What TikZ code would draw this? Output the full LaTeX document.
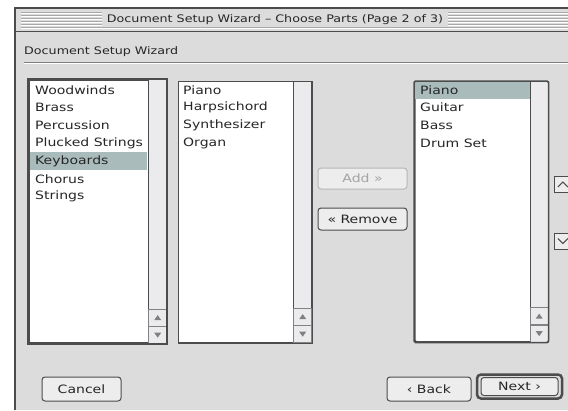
\documentclass[tikz,border=0pt]{standalone}
\usepackage{fontspec}
\setmainfont{DejaVu Sans}
\newfontfamily\uifont[FakeStretch=1.22]{DejaVu Sans}
\usetikzlibrary{positioning}

\definecolor{winbg}{HTML}{DCDCDC}
\definecolor{frame}{HTML}{4C4C4C}
\definecolor{track}{HTML}{EBEBEE}
\definecolor{selbg}{HTML}{A9BBBB}
\definecolor{dimtext}{HTML}{A4A4A4}
\definecolor{stripe}{HTML}{A8A8A8}

\begin{document}
\begin{tikzpicture}[x=1pt, y=-1pt,
ui/.style={font=\uifont\fontsize{11.5}{13}\selectfont, text=black!85},
caption/.style={font=\uifont\fontsize{10.4}{12}\selectfont, text=black!85},
listbox/.style={draw=frame, fill=white, anchor=north west, inner sep=0pt},
item/.style={ui, anchor=west, inner sep=0pt},
scrollbox/.style={draw=frame, fill=track, line width=0.8pt, anchor=north east, inner sep=0pt, minimum width=18},
arrowbox/.style={draw=frame!70, fill=track, line width=0.6pt, inner sep=0pt, minimum width=18, minimum height=17},
btn/.style={ui, draw=frame, fill=white!93!black, rounded corners=3pt, line width=1pt, inner sep=0pt, minimum height=22},
sidebtn/.style={draw=frame, fill=white!93!black, line width=0.8pt, inner sep=0pt, minimum width=17, minimum height=16}
]

\useasboundingbox (0,0) rectangle (568,410);
\fill[white] (0,0) rectangle (568,410);

% Window
\fill[winbg] (15,8) rectangle (568,410);
\foreach \y in {12,15,...,27} {
  \draw[stripe, line width=0.9pt] (21,\y) -- (568,\y);
  \draw[white, line width=0.6pt] (21,\y+1) -- (568,\y+1);
}
\node[caption, fill=winbg, inner xsep=5pt, inner ysep=2pt] (title) at (275,19.5) {Document Setup Wizard – Choose Parts (Page 2 of 3)};
\draw[frame, line width=1.2pt] (15,410) -- (15,8) -- (568,8);
\draw[frame, line width=1pt] (15,31) -- (568,31);

\node[caption, anchor=west, inner sep=0pt] (header) at (24,52) {Document Setup Wizard};
\draw[gray, line width=0.8pt] (24,62.5) -- (568,62.5);
\draw[white, line width=0.6pt] (24,63.5) -- (568,63.5);

% Lists
\node[listbox, line width=2pt, minimum width=137, minimum height=263] (families) at (28,79) {};
\node[listbox, line width=1pt, minimum width=133, minimum height=261] (parts) at (178,81) {};
\node[listbox, line width=1.5pt, rounded corners=1.5pt, minimum width=133, minimum height=260] (chosen) at (414,81) {};

\fill[selbg] (29.5,152) rectangle (147,170);
\fill[selbg] (415,82) rectangle (531,99);

\foreach \n/\h in {families/263, parts/261, chosen/260} {
  \node[scrollbox, minimum height=\h] (\n scroll) at (\n.north east) {};
  \node[arrowbox, anchor=south east] (\n down) at (\n.south east) {};
  \node[arrowbox, above=0pt of \n down] (\n up) {};
  \fill[gray] (\n up.center) ++(0,-2.5) -- ++(3.5,5) -- ++(-7,0) -- cycle;
  \fill[gray] (\n down.center) ++(0,2.5) -- ++(3.5,-5) -- ++(-7,0) -- cycle;
}
\draw[frame, line width=2pt] (families.north west) rectangle (families.south east);
\draw[frame, line width=1pt] (parts.north west) rectangle (parts.south east);
\draw[frame, line width=1.5pt, rounded corners=1.5pt] (chosen.north west) rectangle (chosen.south east);

\foreach \t [count=\i] in {Woodwinds, Brass, Percussion, Plucked Strings, Keyboards, Chorus, Strings}
  \node[item] (fam\i) at (35,72+17.8*\i) {\t};
\foreach \t [count=\i] in {Piano, Harpsichord, Synthesizer, Organ}
  \node[item] (part\i) at (183,72+17.8*\i) {\t};
\foreach \t [count=\i] in {Piano, Guitar, Bass, Drum Set}
  \node[item] (pick\i) at (420,72+17.8*\i) {\t};

% Add / Remove
\node[btn, draw=frame!40, text=dimtext, minimum width=89, minimum height=21] (add) at (362.5,178.5) {Add »};
\node[btn, minimum width=89] (remove) at (362.5,219) {« Remove};

% Order buttons
\node[sidebtn, anchor=west] (moveup) at (554,184.5) {};
\node[sidebtn, anchor=west] (movedown) at (554,241) {};
\draw[frame, line width=1pt] (moveup.center) ++(-5,2.5) -- ++(5,-5) -- ++(5,5);
\draw[frame, line width=1pt] (movedown.center) ++(-5,-2.5) -- ++(5,5) -- ++(5,-5);

% Bottom buttons
\node[btn, minimum width=79, minimum height=24] (cancel) at (81.5,389) {Cancel};
\node[btn, minimum width=84, minimum height=24] (back) at (429,389) {‹ Back};
\node[draw=frame, line width=2.5pt, rounded corners=4pt, minimum width=85, minimum height=24, inner sep=0pt] (nextring) at (519.5,386.5) {};
\node[btn, minimum width=77, minimum height=18] (next) at (519.5,386.5) {Next ›};

\end{tikzpicture}
\end{document}
